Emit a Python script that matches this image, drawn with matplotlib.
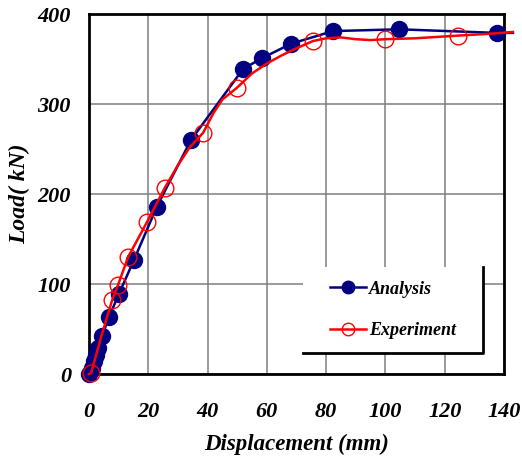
import matplotlib
matplotlib.use("Agg")
import matplotlib.pyplot as plt
from matplotlib.lines import Line2D
from matplotlib.patches import Rectangle

plt.rcParams["font.family"] = ["Liberation Serif", "DejaVu Serif"]

# analysis (FE) results, markers at each output step
analysis_disp = [0, 1.0, 1.7, 2.4, 3.1, 4.4, 6.7, 10.1, 15.2, 22.9, 34.4,
                 52.0, 58.4, 68.2, 82.3, 104.6, 137.6]
analysis_load = [0, 7, 14, 21, 29, 42, 63, 89, 127, 186, 260,
                 339, 351, 367, 381, 383, 379]
# analysis curve continues a little past the last step
analysis_tail_disp = [143.0]
analysis_tail_load = [379]

# test record (continuous) and the sampled points shown as markers
exp_curve_disp = [0, 0.7, 4.0, 7.8, 9.8, 13.2, 19.6, 25.6, 30.0, 34.0, 38.5,
                  42.0, 45.0, 49.9, 55.0, 60.0, 65.0, 70.0, 75.6, 80.0, 85.0,
                  90.0, 95.0, 99.9, 110.0, 124.5, 135.0, 143.0]
exp_curve_load = [0, 1, 40, 82, 99, 130, 169, 207, 232, 252, 268,
                  290, 305, 318, 334, 345, 354, 362, 370, 373, 374,
                  372, 371, 372, 373, 376, 378, 380]
exp_disp = [0.7, 7.8, 9.8, 13.2, 19.6, 25.6, 38.5, 49.9, 75.6, 99.9, 124.5]
exp_load = [1, 82, 99, 130, 169, 207, 268, 318, 370, 372, 376]

x_ticks = [0, 20, 40, 60, 80, 100, 120, 140]
y_ticks = [0, 100, 200, 300, 400]

navy = "#000080"
red = "#ff0000"

fig = plt.figure(figsize=(5.22, 4.63), dpi=100)
ax = fig.add_axes([89 / 522, 89 / 463, 415 / 522, 360 / 463])

ax.plot(analysis_disp + analysis_tail_disp, analysis_load + analysis_tail_load,
        color=navy, lw=1.8, zorder=3, clip_on=False)
ax.plot(analysis_disp, analysis_load, ls="none", marker="o", ms=11.5,
        color=navy, zorder=4, clip_on=False)
ax.plot(exp_curve_disp, exp_curve_load, color=red, lw=1.8, zorder=5,
        clip_on=False)
ax.plot(exp_disp, exp_load, ls="none", marker="o", ms=12, mfc="none",
        mec=red, mew=1.0, zorder=6, clip_on=False)

ax.set_xlim(0, 140)
ax.set_ylim(0, 400)
ax.set_xticks(x_ticks)
ax.set_yticks(y_ticks)
ax.grid(True, color="#7f7f7f", lw=1.1)
ax.tick_params(length=0, labelsize=16)
ax.tick_params(axis="x", pad=20)
ax.tick_params(axis="y", pad=13)
for lab in ax.get_xticklabels() + ax.get_yticklabels():
    lab.set_fontweight("bold")
    lab.set_fontstyle("italic")
for sp in ax.spines.values():
    sp.set_linewidth(2.0)

ax.set_xlabel("Displacement (mm)", fontsize=16.5, fontweight="bold",
              fontstyle="italic", labelpad=9)
ax.set_ylabel("Load( kN)", fontsize=17, fontweight="bold",
              fontstyle="italic", labelpad=5)

# legend box: white panel with a drop-shadow edge on the right and bottom
x0, x1 = (303 - 89) / 415, (483 - 89) / 415
y0, y1 = (374 - 353) / 360, (374 - 267) / 360
ax.add_patch(Rectangle((x0, y0), x1 - x0, y1 - y0, transform=ax.transAxes,
                       facecolor="white", edgecolor="none", zorder=7))
ax.add_line(Line2D([x1, x1, x0], [y1, y0, y0], transform=ax.transAxes,
                   color="black", lw=2.0, zorder=8))

handles = [
    Line2D([], [], color=navy, lw=1.8, marker="o", ms=9, mfc=navy, mec=navy),
    Line2D([], [], color=red, lw=1.8, marker="o", ms=9, mfc="none", mec=red,
           mew=1.0),
]
leg = ax.legend(handles, ["Analysis", "Experiment"], loc="center",
                bbox_to_anchor=((x0 + x1) / 2, (y0 + y1) / 2),
                frameon=False, handlelength=2.0, handletextpad=0.2,
                labelspacing=1.35,
                prop={"size": 13, "weight": "bold", "style": "italic"})
leg.set_zorder(9)

fig.savefig("out.png", dpi=100)
